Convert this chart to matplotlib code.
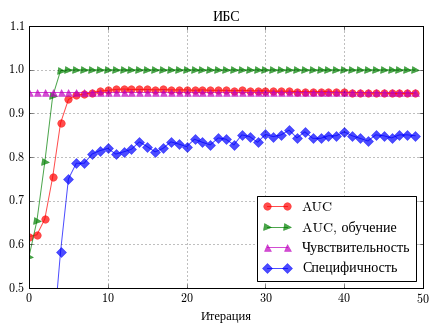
import matplotlib
matplotlib.use("Agg")
import matplotlib.pyplot as plt
import numpy as np

iterations = list(range(50))
auc = [0.618, 0.622, 0.658, 0.754, 0.878, 0.932, 0.942, 0.944, 0.948, 0.951,
       0.953, 0.955, 0.956, 0.955, 0.955, 0.955, 0.954, 0.955, 0.954, 0.954,
       0.954, 0.953, 0.954, 0.953, 0.953, 0.953, 0.952, 0.953, 0.952, 0.952,
       0.952, 0.951, 0.951, 0.951, 0.950, 0.950, 0.950, 0.950, 0.950, 0.949,
       0.949, 0.948, 0.948, 0.947, 0.947, 0.947, 0.946, 0.946, 0.946, 0.946]
auc_train = [0.572, 0.654, 0.788, 0.939, 0.998] + [1.0] * 45
sensitivity = [0.949] * 50
specificity = [0.25, 0.30, 0.33, 0.372, 0.583, 0.750, 0.786, 0.786, 0.807, 0.815,
               0.820, 0.807, 0.812, 0.818, 0.835, 0.824, 0.812, 0.820, 0.835, 0.830,
               0.824, 0.841, 0.834, 0.828, 0.844, 0.841, 0.828, 0.851, 0.847, 0.834,
               0.852, 0.847, 0.851, 0.862, 0.844, 0.858, 0.843, 0.843, 0.849, 0.849,
               0.858, 0.849, 0.843, 0.837, 0.851, 0.849, 0.844, 0.851, 0.851, 0.849]

labels = ["AUC", "AUC, обучение", "Чувствительность", "Специфичность"]

plt.style.use("classic")
plt.rcParams["font.family"] = ["cmr10", "Liberation Serif"]
plt.rcParams["axes.formatter.use_mathtext"] = True

fig = plt.figure(figsize=(433 / 72, 327 / 72), dpi=72, facecolor="white")
ax = fig.add_axes([0.067, 0.119, 0.91, 0.801])

alpha = 0.7
ax.plot(iterations, auc, "-o", color="r", mec="r", alpha=alpha, ms=7.5, lw=1, label=labels[0])
ax.plot(iterations, auc_train, "->", color="g", mec="g", alpha=alpha, ms=7, lw=1, label=labels[1])
ax.plot(iterations, sensitivity, "-^", color="m", mec="m", alpha=alpha, ms=7, lw=1, label=labels[2])
ax.plot(iterations, specificity, "-D", color="b", mec="b", alpha=alpha, ms=7, lw=1, label=labels[3])

ax.set_xlim(0, 50)
ax.set_ylim(0.5, 1.1)
ax.set_xticks([0, 10, 20, 30, 40, 50])
ax.set_yticks([0.5, 0.6, 0.7, 0.8, 0.9, 1.0, 1.1])
ax.tick_params(labelsize=12)
ax.grid(True, linestyle=":", color="k")
ax.set_title("ИБС", fontsize=14)
ax.set_xlabel("Итерация", fontsize=12.5)
leg = ax.legend(loc="lower right", fontsize=14, numpoints=2, fancybox=False)
leg.get_frame().set_edgecolor("k")

fig.savefig("out.png", dpi=72, facecolor="white")
